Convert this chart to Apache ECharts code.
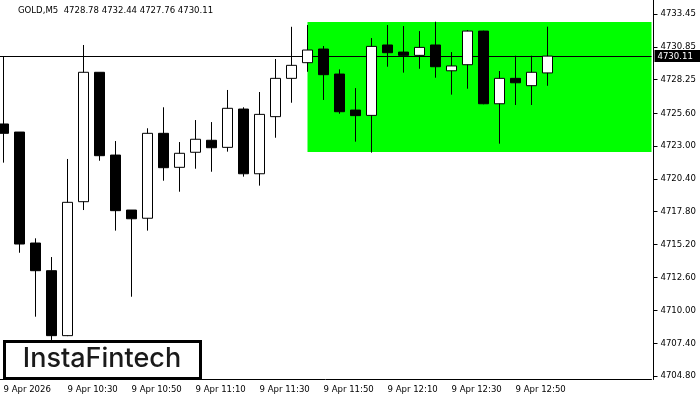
<!DOCTYPE html>
<html>
<head>
<meta charset="utf-8">
<script src="https://cdn.jsdelivr.net/npm/echarts@6/dist/echarts.min.js"></script>
<style>html,body{margin:0;padding:0;background:#fff;}#c{width:700px;height:400px;}</style>
</head>
<body>
<div id="c"></div>
<script>
// 5-minute candle times (9 Apr 2026)
var times = ['10:10','10:15','10:20','10:25','10:30','10:35','10:40','10:45','10:50','10:55',
  '11:00','11:05','11:10','11:15','11:20','11:25','11:30','11:35','11:40','11:45',
  '11:50','11:55','12:00','12:05','12:10','12:15','12:20','12:25','12:30','12:35',
  '12:40','12:45','12:50','12:55','13:00'];
// empty future slots (chart shift)
var futureSlots = ['13:05','13:10','13:15','13:20','13:25','13:30'];
var opens  = [4724.74,4724.10,4715.32,4713.13,4707.99,4718.59,4728.83,4722.28,4717.93,4717.28,
  4724.00,4721.31,4722.50,4723.45,4722.89,4725.92,4720.80,4725.32,4728.35,4729.59,
  4730.67,4728.69,4725.84,4725.42,4730.99,4730.43,4730.17,4730.99,4728.95,4729.43,
  4732.09,4726.34,4728.35,4727.77,4728.78];
var closes = [4724.00,4715.24,4713.13,4707.99,4718.54,4728.83,4722.23,4717.88,4717.24,4724.00,
  4721.28,4722.42,4723.53,4722.86,4725.98,4720.80,4725.50,4728.35,4729.38,4730.59,
  4728.64,4725.71,4725.40,4730.88,4730.38,4730.17,4730.80,4729.27,4729.33,4732.09,
  4726.34,4728.35,4728.00,4728.83,4730.11];
var lows   = [4721.68,4714.55,4709.49,4707.65,4707.95,4717.93,4721.83,4716.30,4711.07,4716.30,
  4720.25,4719.38,4721.20,4720.96,4722.55,4720.57,4719.86,4723.65,4726.42,4728.87,
  4726.64,4725.55,4723.34,4722.47,4729.27,4728.80,4729.11,4728.40,4727.06,4727.53,
  4726.30,4723.18,4726.24,4726.24,4727.76];
var highs  = [4730.06,4724.10,4715.69,4714.21,4721.97,4730.99,4728.83,4723.39,4717.93,4724.40,
  4726.06,4723.31,4725.05,4724.89,4727.43,4726.06,4727.27,4729.88,4732.43,4732.57,
  4730.91,4729.06,4727.58,4731.54,4732.57,4732.49,4732.09,4732.83,4730.43,4732.17,
  4732.12,4728.93,4730.14,4730.14,4732.44];
var tickLabels = ['9 Apr 2026','9 Apr 10:30','9 Apr 10:50','9 Apr 11:10','9 Apr 11:30',
  '9 Apr 11:50','9 Apr 12:10','9 Apr 12:30','9 Apr 12:50'];
var priceTicks = [4704.80,4707.40,4710.00,4712.60,4715.20,4717.80,4720.40,4723.00,4725.60,
  4728.25,4730.85,4733.45];
var symbolTitle = 'GOLD,M5';
var patternStartIndex = 19;
var patternTop = 4732.81;
var patternBottom = 4722.52;
var logoText = 'InstaFintech';

var FONT = "'DejaVu Sans Condensed', 'DejaVu Sans', sans-serif";
var FS = 9.5;
var candles = opens.map(function (o, i) { return [o, closes[i], lows[i], highs[i]]; });
var last = candles.length - 1;
var titleText = symbolTitle + '  ' + [opens[last], highs[last], lows[last], closes[last]]
  .map(function (v) { return v.toFixed(2); }).join(' ');

var chart = echarts.init(document.getElementById('c'), null, { renderer: 'canvas' });
chart.setOption({
  animation: false,
  backgroundColor: '#fff',
  grid: { left: -4.5, right: 48.5, top: 0, bottom: 20.5, containLabel: false, outerBoundsMode: 'none' },
  xAxis: {
    type: 'category',
    data: times.concat(futureSlots),
    boundaryGap: true,
    axisLine: { lineStyle: { color: '#000', width: 1 } },
    axisTick: {
      alignWithLabel: true, length: 4, lineStyle: { color: '#000' },
      interval: function (i) { return i % 4 === 0 && i / 4 < tickLabels.length; }
    },
    axisLabel: {
      interval: 0, align: 'left', margin: 5, color: '#000', fontSize: FS, fontFamily: FONT,
      formatter: function (v, i) {
        return (i % 4 === 0 && i / 4 < tickLabels.length) ? tickLabels[i / 4] : '';
      }
    },
    splitLine: { show: false }
  },
  yAxis: {
    type: 'value', position: 'right', offset: 2,
    min: 4704.52, max: 4734.55, scale: true,
    axisLine: { show: true, lineStyle: { color: '#000', width: 1 } },
    axisTick: { show: true, inside: false, length: 4, customValues: priceTicks, lineStyle: { color: '#000' } },
    axisLabel: {
      customValues: priceTicks, margin: 7, color: '#000', fontSize: FS, fontFamily: FONT,
      formatter: function (v) { return v.toFixed(2); }
    },
    splitLine: { show: false }
  },
  series: [
    {
      type: 'line', data: [], z: 1, silent: true,
      markArea: {
        silent: true,
        itemStyle: { color: '#00ff00', opacity: 1 },
        data: [[{ xAxis: patternStartIndex, yAxis: patternTop }, { yAxis: patternBottom }]]
      },
      markLine: {
        silent: true, symbol: ['none', 'none'],
        lineStyle: { color: '#000', width: 1, type: 'solid' },
        label: {
          show: true, position: 'end', distance: 3,
          backgroundColor: '#000', color: '#fff', fontSize: FS, fontFamily: FONT,
          padding: [1, 12, 1, 3],
          formatter: function () { return closes[last].toFixed(2); }
        },
        data: [{ yAxis: closes[last] }]
      }
    },
    {
      type: 'candlestick', z: 5,
      data: candles,
      barWidth: 10,
      itemStyle: {
        color: '#fff', color0: '#000',
        borderColor: '#000', borderColor0: '#000', borderWidth: 1
      }
    }
  ],
  graphic: [
    {
      type: 'text', left: 18, top: 6, z: 100,
      style: { text: titleText, fill: '#000', font: FS + 'px ' + FONT }
    },
    {
      type: 'group', z: 100,
      children: [
        { type: 'rect', shape: { x: 4.5, y: 341.5, width: 196, height: 37 },
          style: { fill: '#fff', stroke: '#000', lineWidth: 3 } },
        { type: 'text', x: 102, y: 359,
          style: { text: logoText, fill: '#1a1a1a', font: '500 27px Inter', align: 'center', verticalAlign: 'middle' } }
      ]
    }
  ]
});
</script>
</body>
</html>
